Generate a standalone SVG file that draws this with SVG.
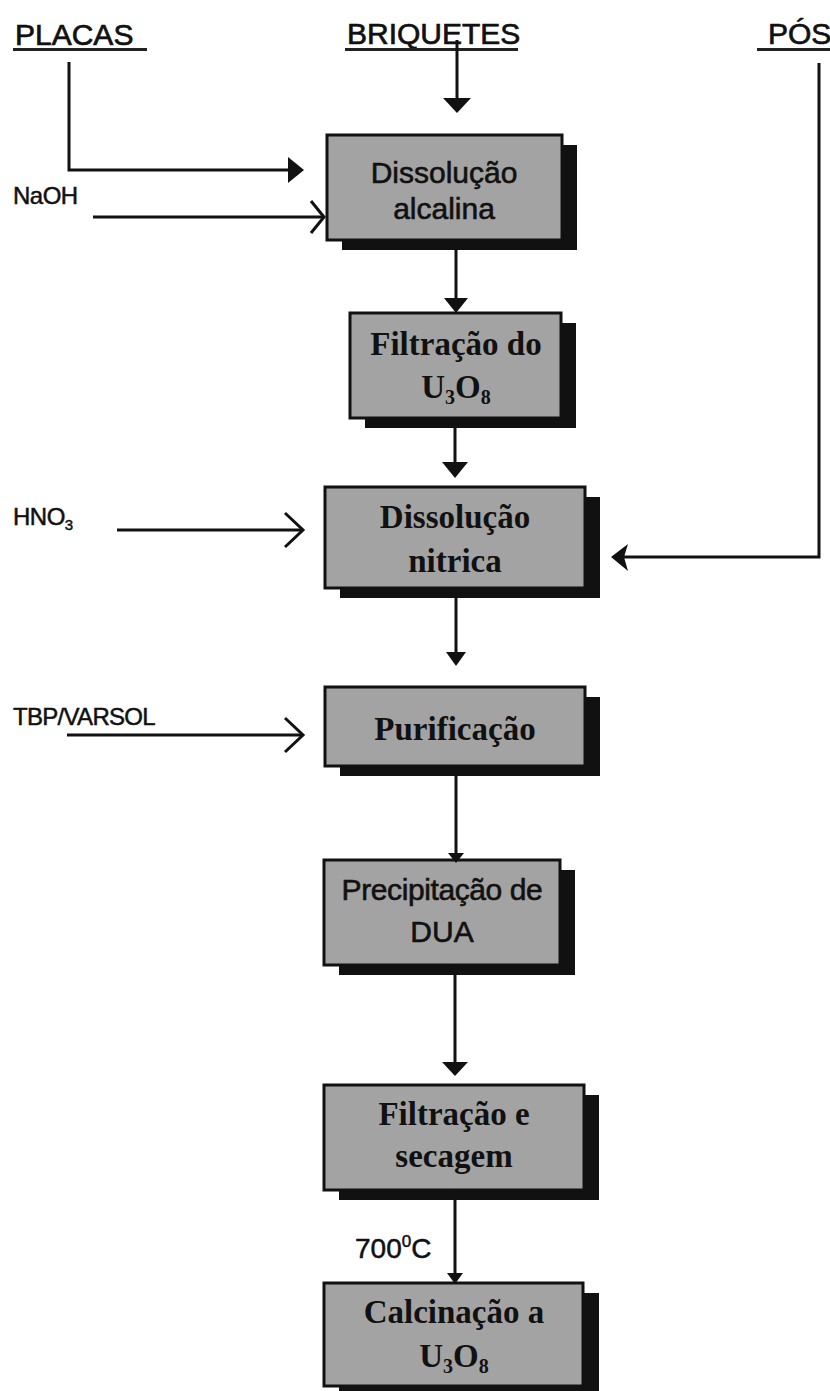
<svg xmlns="http://www.w3.org/2000/svg" width="830" height="1391" viewBox="0 0 830 1391">
<style>
.h{font-family:"Liberation Sans",Arial,sans-serif;font-size:30px;fill:#111;stroke:#111;stroke-width:0.7}
.lbl{font-family:"Liberation Sans",Arial,sans-serif;font-size:24px;fill:#111;stroke:#111;stroke-width:0.5}
.tmp{font-family:"Liberation Sans",Arial,sans-serif;font-size:28px;fill:#111;stroke:#111;stroke-width:0.5}
.sn{font-family:"Liberation Sans",Arial,sans-serif;font-size:30px;fill:#111;stroke:#111;stroke-width:0.6;text-anchor:middle}
.sr{font-family:"Liberation Serif","Times New Roman",serif;font-size:33px;font-weight:bold;fill:#111;text-anchor:middle}
.sub{font-size:20px}
.box{fill:#a3a3a3;stroke:#111;stroke-width:3}
.sh{fill:#111}
.ln{fill:none;stroke:#111;stroke-width:3}
.ah{fill:#111}
.ul{stroke:#222;stroke-width:3}
</style>
<g id="headings">
<text class="h" x="15" y="45">PLACAS</text>
<line class="ul" x1="13" y1="49.500" x2="147" y2="49.500"/>
<text class="h" x="347" y="44">BRIQUETES</text>
<line class="ul" x1="345" y1="49.500" x2="518" y2="49.500"/>
<text class="h" x="768" y="44">PÓS</text>
<line class="ul" x1="757" y1="49.500" x2="830" y2="49.500"/>
</g>
<g id="inputs">
<text class="lbl" x="13" y="204" letter-spacing="-0.5">NaOH</text>
<text class="lbl" x="13" y="525" letter-spacing="-0.5">HNO<tspan style="font-size:15px" dy="5">3</tspan></text>
<text class="lbl" x="13" y="725" letter-spacing="-0.7">TBP/VARSOL</text>
<text class="tmp" x="355" y="1258">700<tspan style="font-size:17px" dy="-11">0</tspan><tspan dy="11">C</tspan></text>
</g>
<g id="n1">
<rect class="sh" x="342" y="145" width="235" height="105"/>
<rect class="box" x="327" y="135" width="235" height="105"/>
<text class="sn" x="444" y="183">Dissolução</text>
<text class="sn" x="444" y="219">alcalina</text>
</g>
<g id="n2">
<rect class="sh" x="365" y="323" width="211" height="105"/>
<rect class="box" x="350" y="313" width="211" height="105"/>
<text class="sr" x="456" y="355">Filtração do</text>
<text class="sr" x="456" y="398">U<tspan class="sub" dy="6">3</tspan><tspan dy="-6">O</tspan><tspan class="sub" dy="6">8</tspan></text>
</g>
<g id="n3">
<rect class="sh" x="340" y="497" width="260" height="101"/>
<rect class="box" x="325" y="487" width="260" height="101"/>
<text class="sr" x="455" y="528">Dissolução</text>
<text class="sr" x="455" y="572">nitrica</text>
</g>
<g id="n4">
<rect class="sh" x="340" y="697" width="260" height="79"/>
<rect class="box" x="325" y="687" width="260" height="79"/>
<text class="sr" x="455" y="740">Purificação</text>
</g>
<g id="n5">
<rect class="sh" x="339" y="870" width="236" height="105"/>
<rect class="box" x="324" y="860" width="236" height="105"/>
<text class="sn" x="442" y="900" letter-spacing="-0.4">Precipitação de</text>
<text class="sn" x="442" y="942">DUA</text>
</g>
<g id="n6">
<rect class="sh" x="339" y="1095" width="260" height="105"/>
<rect class="box" x="324" y="1085" width="260" height="105"/>
<text class="sr" x="454" y="1125">Filtração e</text>
<text class="sr" x="454" y="1167">secagem</text>
</g>
<g id="n7">
<rect class="sh" x="339" y="1293" width="260" height="103"/>
<rect class="box" x="324" y="1283" width="259" height="103"/>
<text class="sr" x="454" y="1323">Calcinação a</text>
<text class="sr" x="454" y="1367">U<tspan class="sub" dy="6">3</tspan><tspan dy="-6">O</tspan><tspan class="sub" dy="6">8</tspan></text>
</g>
<g id="connectors">
<line class="ln" x1="457" y1="40" x2="457" y2="99"/>
<polygon class="ah" points="443,98 471,98 457,113"/>
<polyline class="ln" points="69,62 69,170 290,170"/>
<polygon class="ah" points="288,157 304,170 288,183"/>
<line class="ln" x1="93" y1="217" x2="322" y2="217"/>
<polyline class="ln" points="311,201 324,217 311,233"/>
<line class="ln" x1="456" y1="240" x2="456" y2="299"/>
<polygon class="ah" points="444,298 468,298 456,313"/>
<line class="ln" x1="455" y1="418" x2="455" y2="463"/>
<polygon class="ah" points="442,462 468,462 455,478"/>
<line class="ln" x1="117" y1="530" x2="301" y2="530"/>
<polyline class="ln" points="285,513 303,530 285,547"/>
<polyline class="ln" points="819,63 819,557 624,557"/>
<polygon class="ah" points="611,557 628,544 624,557 628,571"/>
<line class="ln" x1="456" y1="588" x2="456" y2="653"/>
<polygon class="ah" points="446,652 466,652 456,666"/>
<line class="ln" x1="67" y1="735" x2="301" y2="735"/>
<polyline class="ln" points="285,718 303,735 285,752"/>
<line class="ln" x1="456" y1="766" x2="456" y2="855"/>
<polygon class="ah" points="448,853 464,853 456,863"/>
<line class="ln" x1="455" y1="965" x2="455" y2="1063"/>
<polygon class="ah" points="442,1062 468,1062 455,1076"/>
<line class="ln" x1="455" y1="1190" x2="455" y2="1275"/>
<polygon class="ah" points="447,1273 463,1273 455,1284"/>
</g>
</svg>
